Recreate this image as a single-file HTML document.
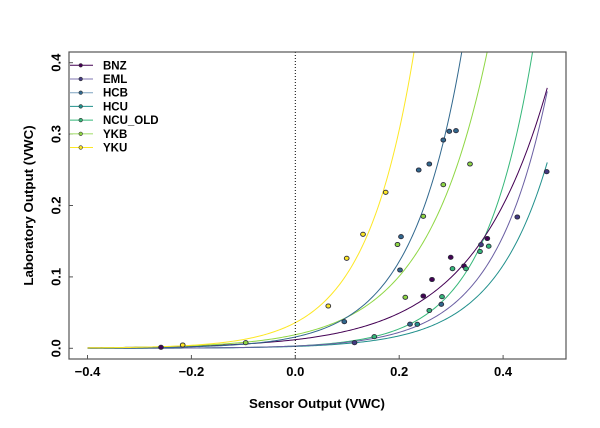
<!DOCTYPE html>
<html>
<head>
<meta charset="utf-8">
<style>
html,body{margin:0;padding:0;background:#fff;}
svg{display:block;}
text{font-family:"Liberation Sans",Arial,sans-serif;font-weight:bold;fill:#000;}
</style>
</head>
<body>
<svg id="c" width="600" height="428" viewBox="0 0 600 428" xmlns="http://www.w3.org/2000/svg">
<defs><clipPath id="clip"><rect x="69" y="52" width="497" height="307"/></clipPath></defs>
<rect x="0" y="0" width="600" height="428" fill="#fff"/>
<g id="curves" clip-path="url(#clip)"></g>
<line x1="295.3" y1="52" x2="295.3" y2="359" stroke="#000" stroke-width="1" stroke-dasharray="1,2"/>
<g id="pts"></g>
<!-- box -->
<rect x="69" y="52" width="497" height="307" fill="none" stroke="#555" stroke-width="1.2"/>
<!-- y ticks -->
<g stroke="#555" stroke-width="1">
<line x1="69" y1="348.3" x2="73" y2="348.3"/>
<line x1="69" y1="276.9" x2="73" y2="276.9"/>
<line x1="69" y1="205.5" x2="73" y2="205.5"/>
<line x1="69" y1="134.1" x2="73" y2="134.1"/>
<line x1="69" y1="62.7" x2="73" y2="62.7"/>
<line x1="87.5" y1="359" x2="87.5" y2="355"/>
<line x1="191.4" y1="359" x2="191.4" y2="355"/>
<line x1="295.3" y1="359" x2="295.3" y2="355"/>
<line x1="399.2" y1="359" x2="399.2" y2="355"/>
<line x1="503.1" y1="359" x2="503.1" y2="355"/>
</g>
<g font-size="13" text-anchor="middle">
<text transform="translate(60.5,348.3) rotate(-90)">0.0</text>
<text transform="translate(60.5,276.9) rotate(-90)">0.1</text>
<text transform="translate(60.5,205.5) rotate(-90)">0.2</text>
<text transform="translate(60.5,134.1) rotate(-90)">0.3</text>
<text transform="translate(60.5,62.7) rotate(-90)">0.4</text>
<text x="87.5" y="376">−0.4</text>
<text x="191.4" y="376">−0.2</text>
<text x="295.3" y="376">0.0</text>
<text x="399.2" y="376">0.2</text>
<text x="503.1" y="376">0.4</text>
</g>
<text x="317" y="408" font-size="13.3" text-anchor="middle">Sensor Output (VWC)</text>
<text transform="translate(33,205.5) rotate(-90)" font-size="13.3" text-anchor="middle">Laboratory Output (VWC)</text>
<!-- legend -->
<g id="legend" font-size="11.5">
<line x1="70" y1="65.3" x2="93" y2="65.3" stroke="#440154"/><circle cx="80.7" cy="65.3" r="1.8" fill="#440154" stroke="#333" stroke-width="0.6"/><text x="103" y="69.3">BNZ</text>
<line x1="70" y1="79" x2="93" y2="79" stroke="#7f74b0"/><circle cx="80.7" cy="79" r="1.8" fill="#443A83" stroke="#333" stroke-width="0.6"/><text x="103" y="83">EML</text>
<line x1="70" y1="92.7" x2="93" y2="92.7" stroke="#7fa3c0"/><circle cx="80.7" cy="92.7" r="1.8" fill="#31688E" stroke="#333" stroke-width="0.6"/><text x="103" y="96.7">HCB</text>
<line x1="70" y1="106.4" x2="93" y2="106.4" stroke="#21908C"/><circle cx="80.7" cy="106.4" r="1.8" fill="#21908C" stroke="#333" stroke-width="0.6"/><text x="103" y="110.4">HCU</text>
<line x1="70" y1="120.1" x2="93" y2="120.1" stroke="#35B779"/><circle cx="80.7" cy="120.1" r="1.8" fill="#35B779" stroke="#333" stroke-width="0.6"/><text x="103" y="124.1">NCU_OLD</text>
<line x1="70" y1="133.8" x2="93" y2="133.8" stroke="#c0e89a" stroke-width="1.5"/><circle cx="80.7" cy="133.8" r="1.8" fill="#8FD744" stroke="#333" stroke-width="0.6"/><text x="103" y="137.8">YKB</text>
<line x1="70" y1="147.5" x2="93" y2="147.5" stroke="#FDE725"/><circle cx="80.7" cy="147.5" r="1.8" fill="#FDE725" stroke="#333" stroke-width="0.6"/><text x="103" y="151.5">YKU</text>
</g>
</svg>
<script>
(function(){
var NS="http://www.w3.org/2000/svg";
function X(v){return 295.3+519.5*v;}
function Y(v){return 348.3-714*v;}
var curves=[
 ["#35B779",0.003264,10.61],
 ["#21908C",0.00261,9.49],
 ["#6a5fa3",0.00318,9.75],
 ["#440154",0.01208,7.026],
 ["#8FD744",0.019,8.35],
 ["#31688E",0.0158,10.2],
 ["#FDE725",0.0359,10.71]
];
var g=document.getElementById("curves");
curves.forEach(function(c){
  var d="";
  for(var i=0;i<=300;i++){
    var x=-0.4+(0.885)*i/300;
    var y=c[1]*Math.exp(c[2]*x);
    var py=Y(y); if(py<40){py=40;}
    d+=(i?"L":"M")+X(x).toFixed(2)+","+py.toFixed(2);
    if(py<=40)break;
  }
  var p=document.createElementNS(NS,"path");
  p.setAttribute("d",d);p.setAttribute("fill","none");
  p.setAttribute("stroke",c[0]);p.setAttribute("stroke-width","1");
  g.appendChild(p);
});
var pts=[
 ["#FDE725",[[182.7,345],[328.3,306],[346.7,258.3],[363,234.3],[385.7,192.3]]],
 ["#8FD744",[[245.7,342.7],[397.5,244.5],[405.3,297.3],[423.3,216.3],[443.3,184.7],[470,164]]],
 ["#31688E",[[344.3,321.7],[401,236.7],[400,270],[410,324.2],[418.7,170],[429.3,164],[443.3,140],[449.3,131.3],[456,130.7],[441.3,304.3]]],
 ["#440154",[[161,347.3],[423.3,296],[432,279.5],[450.7,257.3],[464,266],[487.3,238.5]]],
 ["#443A83",[[354.5,342.7],[481,244.7],[517.3,217],[546.7,171.7]]],
 ["#35B779",[[374.3,336.7],[429.3,310.5],[442,296.7],[452.5,268.7],[466,268.7],[480,251.5],[488.7,246.2]]],
 ["#21908C",[[417.3,324.3]]]
];
var pg=document.getElementById("pts");
pts.forEach(function(s){
  s[1].forEach(function(p){
    var c=document.createElementNS(NS,"ellipse");
    c.setAttribute("cx",p[0]);c.setAttribute("cy",p[1]);
    c.setAttribute("rx","2.4");c.setAttribute("ry","2.1");
    c.setAttribute("fill",s[0]);c.setAttribute("stroke","#2a2a3a");c.setAttribute("stroke-width","0.9");
    pg.appendChild(c);
  });
});
})();
</script>
</body>
</html>
